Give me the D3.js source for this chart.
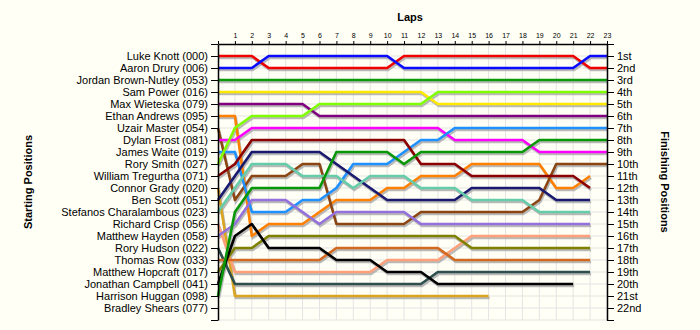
<!DOCTYPE html>
<html>
<head>
<meta charset="utf-8">
<script src="https://cdn.jsdelivr.net/npm/d3@7"></script>
<style>
    body { margin: 0; background: #fffff5; }
    #lapChart { display: block; }
    .tick text { font-family: Arial, "Liberation Sans", sans-serif; fill: #000; }
    .title { font-family: Arial, "Liberation Sans", sans-serif; font-weight: bold; font-size: 11px; }
</style>
</head>
<body>
<svg id="lapChart" width="700" height="330"></svg>
<script>

// starting grid, top to bottom
const drivers = ['Luke Knott (000)', 'Aaron Drury (006)', 'Jordan Brown-Nutley (053)', 'Sam Power (016)',
    'Max Wieteska (079)', 'Ethan Andrews (095)', 'Uzair Master (054)', 'Dylan Frost (081)', 'James Waite (019)',
    'Rory Smith (027)', 'William Tregurtha (071)', 'Connor Grady (020)', 'Ben Scott (051)',
    'Stefanos Charalambous (023)', 'Richard Crisp (056)', 'Matthew Hayden (058)', 'Rory Hudson (022)',
    'Thomas Row (033)', 'Matthew Hopcraft (017)', 'Jonathan Campbell (041)', 'Harrison Huggan (098)',
    'Bradley Shears (077)'];

const finishLabels = ['1st', '2nd', '3rd', '4th', '5th', '6th', '7th', '8th', '9th', '10th', '11th', '12th',
    '13th', '14th', '15th', '16th', '17th', '18th', '19th', '20th', '21st', '22nd'];

const lapLabels = ['1', '2', '3', '4', '5', '6', '7', '8', '9', '10', '11', '12', '13', '14', '15', '16',
    '17', '18', '19', '20', '21', '22', '23'];

// position of each driver at lap 0 (grid) .. lap 23, null = not running
const positions = [
    [1, 1, 1, 2, 2, 2, 2, 2, 2, 2, 2, 1, 1, 1, 1, 1, 1, 1, 1, 1, 1, 1, 2, 2],
    [2, 2, 2, 1, 1, 1, 1, 1, 1, 1, 1, 2, 2, 2, 2, 2, 2, 2, 2, 2, 2, 2, 1, 1],
    [3, 3, 3, 3, 3, 3, 3, 3, 3, 3, 3, 3, 3, 3, 3, 3, 3, 3, 3, 3, 3, 3, 3, 3],
    [4, 4, 4, 4, 4, 4, 4, 4, 4, 4, 4, 4, 4, 5, 5, 5, 5, 5, 5, 5, 5, 5, 5, 5],
    [5, 5, 5, 5, 5, 5, 6, 6, 6, 6, 6, 6, 6, 6, 6, 6, 6, 6, 6, 6, 6, 6, 6, 6],
    [6, 6, 16, 15, 15, 15, 14, 13, 13, 13, 12, 12, 11, 11, 11, 10, 10, 10, 10, 10, 12, 12, 11, null],
    [7, 13, 11, 11, 11, 10, 10, 15, 15, 15, 15, 15, 14, 14, 14, 14, 14, 14, 14, 13, 10, 10, 10, 10],
    [8, 8, 7, 7, 7, 7, 7, 7, 7, 7, 7, 7, 7, 7, 8, 8, 8, 8, 8, 9, 9, 9, 9, 9],
    [9, 9, 14, 14, 14, 13, 13, 12, 10, 10, 10, 9, 8, 8, 7, 7, 7, 7, 7, 7, 7, 7, 7, 7],
    [10, 7, 6, 6, 6, 6, 5, 5, 5, 5, 5, 5, 5, 4, 4, 4, 4, 4, 4, 4, 4, 4, 4, 4],
    [11, 10, 8, 8, 8, 8, 8, 8, 8, 8, 8, 8, 10, 10, 10, 11, 11, 11, 11, 11, 11, 11, 12, null],
    [12, 21, 21, 21, 21, 21, 21, 21, 21, 21, 21, 21, 21, 21, 21, 21, 21, null, null, null, null, null, null, null],
    [13, 11, 9, 9, 9, 9, 9, 10, 11, 12, 13, 13, 13, 13, 13, 12, 12, 12, 12, 12, 13, 13, 13, null],
    [14, 12, 10, 10, 10, 11, 11, 11, 12, 11, 11, 11, 12, 12, 12, 13, 13, 13, 13, 14, 14, 14, 14, null],
    [15, 19, 19, 19, 19, 19, 19, 19, 19, 19, 18, 18, 18, 18, 17, 16, 16, 16, 16, 16, 16, 16, 16, null],
    [16, 15, 13, 13, 13, 14, 15, 14, 14, 14, 14, 14, 15, 15, 15, 15, 15, 15, 15, 15, 15, 15, 15, null],
    [17, 20, 20, 20, 20, 20, 20, 20, 20, 20, 20, 20, 20, 19, 19, 19, 19, 19, 19, 19, 19, 19, 19, null],
    [18, 18, 18, 18, 18, 18, 18, 17, 17, 17, 17, 17, 17, 17, 18, 18, 18, 18, 18, 18, 18, 18, 18, null],
    [19, 17, 17, 16, 16, 16, 16, 16, 16, 16, 16, 16, 16, 16, 16, 17, 17, 17, 17, 17, 17, 17, 17, null],
    [20, 16, 15, 17, 17, 17, 17, 18, 18, 18, 19, 19, 19, 20, 20, 20, 20, 20, 20, 20, 20, 20, null, null],
    [21, 14, 12, 12, 12, 12, 12, 9, 9, 9, 9, 10, 9, 9, 9, 9, 9, 9, 9, 8, 8, 8, 8, 8],
    []
];

const colours = ['#f00000', '#0a0aff', '#0a9a0a', '#ffe800', '#800080', '#ff8000', '#8b4513', '#ff00ff',
    '#1e90ff', '#7fff00', '#8b0000', '#daa520', '#191970', '#66cdaa', '#ffa07a', '#9370db', '#2f4f4f',
    '#d2691e', '#808000', '#000000', '#079707', '#999999'];

class lapChart {

    constructor() {
        this.svg = d3.select('#lapChart');
        this.x = d3.scaleLinear()
                   .domain([0, 23])
                   .range([218, 607]);
        this.y = d3.scaleLinear()
                   .domain([0, 23])
                   .range([44, 320]);
        this.drawGrid();
        this.drawLines();
        this.drawAxes();
    }

    drawGrid() {
        let grid = this.svg.append('g').attr('id', 'grid');

        grid.selectAll('.vgrid')
            .data(d3.range(1, 24))
            .enter()
            .append('line')
            .attr('class', 'vgrid')
            .attr('x1', d => this.x(d))
            .attr('x2', d => this.x(d))
            .attr('y1', this.y(0))
            .attr('y2', this.y(23))
            .attr('stroke', '#e4e4e4');

        grid.selectAll('.hgrid')
            .data(d3.range(1, 24))
            .enter()
            .append('line')
            .attr('class', 'hgrid')
            .attr('x1', this.x(0))
            .attr('x2', this.x(23))
            .attr('y1', d => this.y(d))
            .attr('y2', d => this.y(d))
            .attr('stroke', '#e4e4e4');
    }

    drawLines() {
        let line = d3.line()
                     .defined(d => d != null)
                     .x((d, i) => this.x(i))
                     .y(d => this.y(d));

        let plots = this.svg.append('g').attr('id', 'plots');

        // drop shadow first, then the coloured line on top
        plots.selectAll('.shadow')
             .data(positions)
             .enter()
             .append('path')
             .attr('class', 'shadow')
             .attr('d', line)
             .attr('transform', 'translate(1,2)')
             .attr('fill', 'none')
             .attr('stroke', '#a8a8a8')
             .attr('stroke-opacity', 0.8)
             .attr('stroke-width', 2.6);

        plots.selectAll('.driver')
             .data(positions)
             .enter()
             .append('path')
             .attr('class', 'driver')
             .attr('d', line)
             .attr('fill', 'none')
             .attr('stroke', (d, i) => colours[i])
             .attr('stroke-width', 2.6)
             .attr('stroke-linejoin', 'round');
    }

    drawAxes() {
        let left = d3.axisLeft(this.y)
                     .tickValues(d3.range(0, 24))
                     .tickFormat(d => drivers[d - 1] || '')
                     .tickSize(7)
                     .tickSizeOuter(0)
                     .tickPadding(3);

        let right = d3.axisRight(this.y)
                      .tickValues(d3.range(0, 24))
                      .tickFormat(d => finishLabels[d - 1] || '')
                      .tickSize(7)
                      .tickSizeOuter(0)
                      .tickPadding(3);

        let top = d3.axisTop(this.x)
                    .tickValues(d3.range(0, 24))
                    .tickFormat(d => lapLabels[d - 1] || '')
                    .tickSize(3)
                    .tickSizeOuter(0)
                    .tickPadding(3);

        let gTop = this.svg.append('g')
                       .attr('transform', `translate(0,${this.y(0)})`)
                       .call(top);
        gTop.selectAll('text').style('font-size', '7px');

        let gLeft = this.svg.append('g')
                        .attr('transform', `translate(${this.x(0)},0)`)
                        .call(left);
        gLeft.selectAll('text').style('font-size', '11px');

        let gRight = this.svg.append('g')
                         .attr('transform', `translate(${this.x(23)},0)`)
                         .call(right);
        gRight.selectAll('text').style('font-size', '11px');

        this.svg.selectAll('.domain').attr('stroke-width', 1.5);

        this.svg.append('text')
            .attr('class', 'title')
            .attr('x', 410)
            .attr('y', 21)
            .attr('text-anchor', 'middle')
            .text('Laps');

        this.svg.append('text')
            .attr('class', 'title')
            .attr('transform', 'translate(32,182) rotate(-90)')
            .attr('text-anchor', 'middle')
            .text('Starting Positions');

        this.svg.append('text')
            .attr('class', 'title')
            .attr('transform', 'translate(661,182) rotate(90)')
            .attr('text-anchor', 'middle')
            .text('Finishing Positions');
    }
}

new lapChart();
</script>
</body>
</html>
